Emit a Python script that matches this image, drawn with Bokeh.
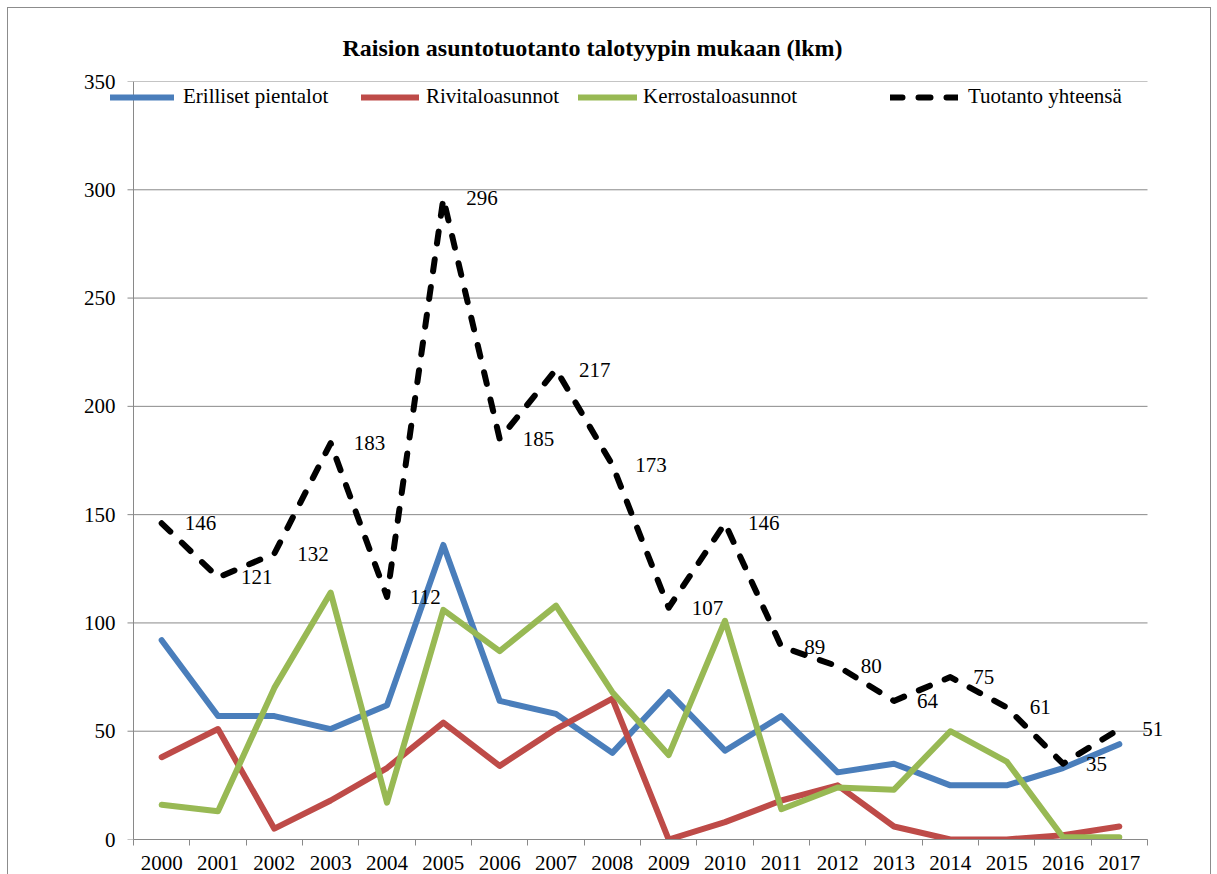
from bokeh.plotting import figure
from bokeh.models import (Range1d, FixedTicker, Legend, LegendItem, ColumnDataSource, Title,
                          LabelSet)
from bokeh.embed import file_html
from bokeh.resources import INLINE

years = [2000, 2001, 2002, 2003, 2004, 2005, 2006, 2007, 2008, 2009,
         2010, 2011, 2012, 2013, 2014, 2015, 2016, 2017]
erilliset = [92, 57, 57, 51, 62, 136, 64, 58, 40, 68, 41, 57, 31, 35, 25, 25, 33, 44]
rivitalo = [38, 51, 5, 18, 33, 54, 34, 51, 65, 0, 8, 18, 25, 6, 0, 0, 2, 6]
kerrostalo = [16, 13, 70, 114, 17, 106, 87, 108, 68, 39, 101, 14, 24, 23, 50, 36, 1, 1]
yhteensa = [146, 121, 132, 183, 112, 296, 185, 217, 173, 107, 146, 89, 80, 64, 75, 61, 35, 51]
y_ticks = [0, 50, 100, 150, 200, 250, 300, 350]

names = ["Erilliset pientalot", "Rivitaloasunnot", "Kerrostaloasunnot", "Tuotanto yhteensä"]
colors = ["#4A7EBB", "#BE4B48", "#98B954", "#000000"]

FONT = "Liberation Serif, 'Times New Roman', 'DejaVu Serif', serif"
GRID = "#898989"

# plot area: 18 category slots of equal width, plus free room on both sides
# (left: the first legend swatch; right: the last data label)
AXIS_W = 1014
EXTRA_L = 26
EXTRA_R = 45
TICK = 6
x_start = years[0] - 0.5
x_axis_end = years[-1] + 0.5
unit = AXIS_W / (x_axis_end - x_start)
x_end = x_axis_end + EXTRA_R / unit
x_view_start = x_start - EXTRA_L / unit

p = figure(frame_width=AXIS_W + EXTRA_L + EXTRA_R, frame_height=758,
           min_border_left=99, min_border_right=18, min_border_top=73, min_border_bottom=35,
           output_backend="svg", toolbar_location=None,
           x_range=Range1d(x_view_start, x_end),
           y_range=Range1d(0, 350))
p.styles = {"border": "1px solid #8c8c8c", "margin-left": "7px", "margin-top": "7px"}
p.outline_line_color = None
p.background_fill_color = "white"
p.border_fill_color = "white"

title = Title(text="Raision asuntotuotanto talotyypin  mukaan (lkm)", align="left",
              offset=235, text_font=FONT, text_font_size="24px",
              text_font_style="bold", text_color="black", standoff=41)
p.add_layout(title, "above")

# x axis
boundaries = [y - 0.5 for y in years] + [years[-1] + 0.5]
p.xaxis.ticker = FixedTicker(ticks=years, minor_ticks=boundaries)
p.xaxis.bounds = (x_start, x_axis_end)
p.xaxis.major_tick_out = 0
p.xaxis.major_tick_in = 0
p.xaxis.minor_tick_out = TICK
p.xaxis.minor_tick_in = 0
p.xaxis.minor_tick_line_color = GRID
p.xaxis.axis_line_color = GRID
p.xaxis.major_label_text_font = FONT
p.xaxis.major_label_text_font_size = "21px"
p.xaxis.major_label_text_color = "black"
p.xaxis.major_label_standoff = 10

# y axis: labels only (line and ticks are drawn at the category area's left edge)
p.yaxis.ticker = FixedTicker(ticks=y_ticks, minor_ticks=[])
p.yaxis.major_tick_out = 0
p.yaxis.major_tick_in = 0
p.yaxis.major_tick_line_color = None
p.yaxis.axis_line_color = None
p.yaxis.major_label_text_font = FONT
p.yaxis.major_label_text_font_size = "21px"
p.yaxis.major_label_text_color = "black"
p.yaxis.major_label_standoff = -(EXTRA_L - TICK - 12)

p.xgrid.grid_line_color = None
p.ygrid.grid_line_color = None
# horizontal gridlines (with their outward tick) limited to the category area
p.segment(x0=[x_start - TICK / unit] * len(y_ticks), x1=[x_axis_end] * len(y_ticks),
          y0=y_ticks, y1=y_ticks, line_color=GRID, line_width=1)
# vertical axis line
p.segment(x0=[x_start], x1=[x_start], y0=[y_ticks[0]], y1=[y_ticks[-1]],
          line_color=GRID, line_width=1)

src = ColumnDataSource(dict(x=years, e=erilliset, r=rivitalo, k=kerrostalo, t=yhteensa,
                            lbl=[str(v) for v in yhteensa]))

renderers = []
for key, col in zip(["e", "r", "k"], colors[:3]):
    renderers.append(p.line("x", key, source=src, line_color=col, line_width=6,
                            line_join="round", line_cap="round"))
renderers.append(p.line("x", "t", source=src, line_color="black", line_width=6,
                        line_dash="12 16", line_join="round", line_cap="round"))

labels = LabelSet(x="x", y="t", text="lbl", source=src, x_offset=23, y_offset=0,
                  text_baseline="middle", text_align="left", text_font=FONT,
                  text_font_size="21px", text_color="black")
p.add_layout(labels)

# legends (one per entry, positioned like the reference)
leg_specs = [(3, 64, 9), (254, 58, 7), (471, 59, 6), (783, 68, 10)]
for name, r, (lx, gw, st) in zip(names, renderers, leg_specs):
    lg = Legend(items=[LegendItem(label=name, renderers=[r])], location=(lx, 730),
                orientation="horizontal", glyph_width=gw, glyph_height=20,
                label_height=20, label_standoff=st, padding=0, margin=0,
                border_line_color=None, background_fill_alpha=0,
                label_text_font=FONT, label_text_font_size="21px",
                label_text_color="black", label_text_baseline="middle")
    p.add_layout(lg, "center")

open("out.html", "w").write(file_html(p, INLINE))
